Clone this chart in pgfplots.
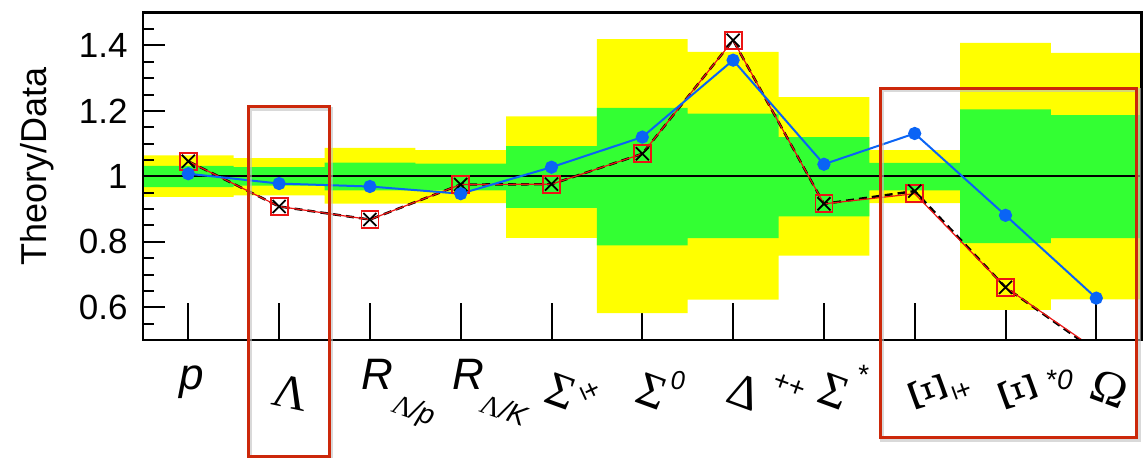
\documentclass[border=0pt]{standalone}
\usepackage{graphicx}
\usepackage{pgfplots}
\pgfplotsset{compat=1.18}
\usepackage{fontspec}
\setmainfont{Liberation Sans}
\newfontfamily\gk{Liberation Serif}
\newcommand{\Gr}[3]{\raisebox{#3}{\rotatebox[origin=c]{#2}{\gk\fontsize{24}{26}\selectfont #1}}}
\newcommand{\Gx}[3]{\raisebox{#3}{\rotatebox[origin=c]{#2}{\gk\fontsize{26}{28}\selectfont #1}}}
\newcommand{\sm}{\fontsize{14}{14}\selectfont}
\definecolor{bandyellow}{RGB}{255,255,0}
\definecolor{bandgreen}{RGB}{51,255,51}
\definecolor{dotblue}{RGB}{10,100,245}
\definecolor{linered}{RGB}{235,20,20}
\definecolor{boxred}{RGB}{204,40,10}
\begin{document}
\begin{tikzpicture}
\begin{axis}[
  scale only axis, width=499.4pt, height=163.65pt,
  xmin=-0.5, xmax=10.5, ymin=0.5, ymax=1.5,
  axis line style={line width=1.25pt},
  xtick={0,1,2,3,4,5,6,7,8,9,10},
  xticklabels={
    {\textit{p}},
    {\Gr{Λ}{-12}{-9.8pt}},
    {\textit{R}\hspace{-2.5pt}\raisebox{-11pt}{\rotatebox{-20}{\sm{\gk Λ}\textit{/p}}}},
    {\textit{R}\hspace{-2.5pt}\raisebox{-11pt}{\rotatebox{-20}{\sm{\gk Λ}\textit{/K}}}},
    {\Gr{Σ}{-20}{-8.9pt}\raisebox{-5pt}{\rotatebox[origin=c]{-65}{\sm ±}}},
    {\Gr{Σ}{-20}{-8.9pt}{\fontsize{13}{13}\selectfont\textit{0}}},
    {\Gr{Δ}{-20}{-9.4pt}\hspace{3.5pt}\raisebox{-2.5pt}{\rotatebox[origin=c]{-20}{\sm ++}}},
    {\Gr{Σ}{-20}{-8.9pt}\hspace{3pt}\raisebox{2.5pt}{\sm *}},
    {\Gx{Ξ}{-70}{-9.6pt}\hspace{1pt}\raisebox{-5pt}{\rotatebox[origin=c]{-70}{\sm ±}}},
    {\Gx{Ξ}{-70}{-9.6pt}\hspace{3pt}{\sm *\textit{0}}},
    {\Gr{Ω}{-20}{-7.9pt}}},
  ytick=\empty,
  tick align=inside, tick pos=left,
  major tick length=18.5pt,
  tick style={line width=1pt, black},
  xticklabel style={font=\fontsize{22}{26}\selectfont, inner sep=0pt, xshift=-4.5pt, yshift=-24.5pt, anchor=base west},
]
% outer (yellow) band
\addplot[fill=bandyellow, draw=none, forget plot] coordinates {
(-0.5,1.064)(0.5,1.064)(0.5,1.056)(1.5,1.056)(1.5,1.087)(2.5,1.087)(2.5,1.080)(3.5,1.080)
(3.5,1.183)(4.5,1.183)(4.5,1.419)(5.5,1.419)(5.5,1.380)(6.5,1.380)(6.5,1.242)(7.5,1.242)
(7.5,1.080)(8.5,1.080)(8.5,1.408)(9.5,1.408)(9.5,1.377)(10.5,1.377)
(10.5,0.624)(9.5,0.624)(9.5,0.592)(8.5,0.592)(8.5,0.918)(7.5,0.918)(7.5,0.758)(6.5,0.758)
(6.5,0.623)(5.5,0.623)(5.5,0.582)(4.5,0.582)(4.5,0.812)(3.5,0.812)(3.5,0.918)(2.5,0.918)
(2.5,0.917)(1.5,0.917)(1.5,0.942)(0.5,0.942)(0.5,0.937)(-0.5,0.937)} --cycle;
% inner (green) band
\addplot[fill=bandgreen, draw=none, forget plot] coordinates {
(-0.5,1.032)(0.5,1.032)(0.5,1.028)(1.5,1.028)(1.5,1.042)(2.5,1.042)(2.5,1.039)(3.5,1.039)
(3.5,1.092)(4.5,1.092)(4.5,1.209)(5.5,1.209)(5.5,1.192)(6.5,1.192)(6.5,1.120)(7.5,1.120)
(7.5,1.041)(8.5,1.041)(8.5,1.205)(9.5,1.205)(9.5,1.187)(10.5,1.187)
(10.5,0.811)(9.5,0.811)(9.5,0.796)(8.5,0.796)(8.5,0.957)(7.5,0.957)(7.5,0.878)(6.5,0.878)
(6.5,0.811)(5.5,0.811)(5.5,0.789)(4.5,0.789)(4.5,0.904)(3.5,0.904)(3.5,0.957)(2.5,0.957)
(2.5,0.957)(1.5,0.957)(1.5,0.972)(0.5,0.972)(0.5,0.967)(-0.5,0.967)} --cycle;
% reference line at 1
\addplot[black, line width=1pt, forget plot] coordinates {(-0.5,1)(10.5,1)};
% black dashed series
\addplot[black, line width=1.2pt, dash pattern=on 4pt off 2.5pt, forget plot] coordinates {
(0,1.046)(1,0.908)(2,0.868)(3,0.975)(4,0.976)(5,1.069)(6,1.416)(7,0.916)(8,0.955)(9,0.661)(10,0.465)};
% red series
\addplot[linered, line width=0.6pt, mark=square, mark size=4.25pt, mark options={solid, line width=0.9pt, linered}] coordinates {
(0,1.046)(1,0.908)(2,0.868)(3,0.975)(4,0.976)(5,1.069)(6,1.416)(7,0.916)(8,0.947)(9,0.661)(10,0.470)};
% black crosses
\addplot[black, only marks, mark=x, mark size=4.6pt, mark options={line width=0.9pt}] coordinates {
(0,1.046)(1,0.908)(2,0.868)(3,0.975)(4,0.976)(5,1.069)(6,1.416)(7,0.916)(8,0.955)(9,0.661)(10,0.465)};
% blue series
\addplot[dotblue, line width=1pt, mark=*, mark size=2.8pt, mark options={dotblue}] coordinates {
(0,1.008)(1,0.978)(2,0.969)(3,0.947)(4,1.028)(5,1.120)(6,1.355)(7,1.037)(8,1.131)(9,0.881)(10,0.628)};
\coordinate (bl) at (rel axis cs:0,0);
\coordinate (tr) at (rel axis cs:1,1);
\coordinate (a1) at (axis cs:0.661,1.212);
\coordinate (a2) at (axis cs:1.550,0.144);
\coordinate (b1) at (axis cs:7.625,1.268);
\coordinate (b2) at (axis cs:10.445,0.201);
\end{axis}
\begin{axis}[
  scale only axis, width=499.4pt, height=163.65pt,
  xmin=-0.5, xmax=10.5, ymin=0.5, ymax=1.5,
  axis line style={line width=1.25pt},
  xtick=\empty,
  ytick={0.6,0.8,1,1.2,1.4},
  yticklabels={0.6,0.8,1,1.2,1.4},
  minor ytick={0.55,0.65,0.7,0.75,0.85,0.9,0.95,1.05,1.1,1.15,1.25,1.3,1.35,1.45},
  tick align=inside, tick pos=left,
  major tick length=11pt, minor tick length=5.5pt,
  tick style={line width=1pt, black},
  yticklabel style={font=\fontsize{17.5}{21}\selectfont, inner sep=0pt, anchor=east, xshift=-7.5pt},
  ylabel={Theory/Data},
  every axis y label/.style={at={(rel axis cs:0,0.529)}, xshift=-53pt, rotate=90, anchor=center, font=\fontsize{18}{22}\selectfont},
]
\end{axis}
\draw[black!25, line width=2pt, opacity=0.6] ([shift={(0.9pt,-0.9pt)}]a1) rectangle ([shift={(0.9pt,-0.9pt)}]a2);
\draw[black!25, line width=2pt, opacity=0.6] ([shift={(0.9pt,-0.9pt)}]b1) rectangle ([shift={(0.9pt,-0.9pt)}]b2);
\draw[boxred, line width=1.5pt] (a1) rectangle (a2);
\draw[boxred, line width=1.5pt] (b1) rectangle (b2);
\pgfresetboundingbox
\path ([shift={(-71.45pt,-58.5pt)}]bl) rectangle ([shift={(2.65pt,6.35pt)}]tr);
\end{tikzpicture}
\end{document}
